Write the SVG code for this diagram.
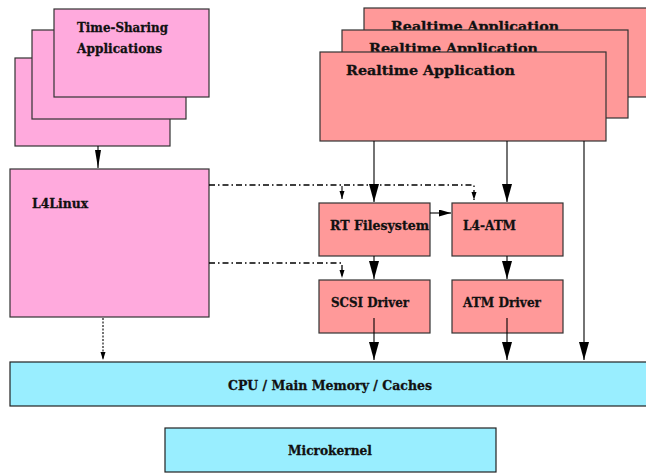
<svg xmlns="http://www.w3.org/2000/svg" width="646" height="473" viewBox="0 0 646 473">
<style>
.ts{fill:#ffaadd;stroke:#333;stroke-width:1.2}
.rt{fill:#ff9999;stroke:#333;stroke-width:1.2}
.hw{fill:#99eeff;stroke:#222;stroke-width:1.2}
text{font-family:"DejaVu Serif","Liberation Serif",serif;font-weight:bold;fill:#111;stroke:#111;stroke-width:0.3;font-size:13px}
.solid{stroke:#000;stroke-width:1.1;fill:none}
.dd{stroke:#000;stroke-width:1.3;fill:none;stroke-dasharray:6 3 1.5 3}
.dot{stroke:#000;stroke-width:1.1;fill:none;stroke-dasharray:2 1.5}
</style>
<defs>
<marker id="big" markerUnits="userSpaceOnUse" markerWidth="19" markerHeight="11" refX="18" refY="5" orient="auto"><path d="M0,0 L18,5 L0,10 z" fill="#000"/></marker>
<marker id="mid" markerUnits="userSpaceOnUse" markerWidth="19" markerHeight="7" refX="18" refY="3" orient="auto"><path d="M0,0 L18,3 L0,6 z" fill="#000"/></marker>
<marker id="med" markerUnits="userSpaceOnUse" markerWidth="13" markerHeight="8" refX="12" refY="3.5" orient="auto"><path d="M0,0 L12,3.5 L0,7 z" fill="#000"/></marker>
<marker id="sm" markerUnits="userSpaceOnUse" markerWidth="9" markerHeight="6" refX="8" refY="2.5" orient="auto"><path d="M0,0 L8,2.5 L0,5 z" fill="#000"/></marker>
</defs>

<g id="timesharing">
<rect class="ts" x="15" y="58" width="155" height="88"/>
<rect class="ts" x="32" y="30" width="154" height="89"/>
<rect class="ts" x="54" y="9" width="155" height="88"/>
<text x="77" y="32" font-size="12" textLength="91" lengthAdjust="spacingAndGlyphs">Time-Sharing</text>
<text x="77" y="52.5" font-size="12" textLength="85" lengthAdjust="spacingAndGlyphs">Applications</text>
</g>

<g id="realtime">
<rect class="rt" x="364" y="8" width="290" height="89"/>
<text x="391" y="30.5" font-size="14" textLength="168" lengthAdjust="spacingAndGlyphs">Realtime Application</text>
<rect class="rt" x="342" y="30" width="286" height="88"/>
<text x="369" y="52.5" font-size="14" textLength="169" lengthAdjust="spacingAndGlyphs">Realtime Application</text>
<rect class="rt" x="320" y="52" width="286" height="89"/>
<text x="346" y="74.5" font-size="14" textLength="169" lengthAdjust="spacingAndGlyphs">Realtime Application</text>
</g>

<g id="l4linux">
<rect class="ts" x="10" y="169" width="199" height="148"/>
<text x="32" y="208" textLength="56" lengthAdjust="spacingAndGlyphs">L4Linux</text>
</g>

<g id="rtfs">
<rect class="rt" x="319" y="203" width="111" height="53"/>
<text x="330" y="230" textLength="99" lengthAdjust="spacingAndGlyphs">RT Filesystem</text>
</g>

<g id="l4atm">
<rect class="rt" x="452" y="203" width="111" height="53"/>
<text x="463" y="230" textLength="53" lengthAdjust="spacingAndGlyphs">L4-ATM</text>
</g>

<g id="scsi">
<rect class="rt" x="319" y="280" width="111" height="53"/>
<text x="331" y="307" textLength="78" lengthAdjust="spacingAndGlyphs">SCSI Driver</text>
</g>

<g id="atmdrv">
<rect class="rt" x="452" y="280" width="111" height="53"/>
<text x="463" y="307" textLength="78" lengthAdjust="spacingAndGlyphs">ATM Driver</text>
</g>

<g id="cpu">
<rect class="hw" x="10" y="362" width="650" height="44"/>
<text x="228" y="390" textLength="204" lengthAdjust="spacingAndGlyphs">CPU / Main Memory / Caches</text>
</g>

<g id="microkernel">
<rect class="hw" x="165" y="428" width="331" height="44"/>
<text x="288" y="455" textLength="84" lengthAdjust="spacingAndGlyphs">Microkernel</text>
</g>

<g id="connectors">
<line class="solid" x1="98" y1="146" x2="98" y2="168" marker-end="url(#mid)"/>
<line class="solid" x1="374" y1="141" x2="374" y2="202" marker-end="url(#big)"/>
<line class="solid" x1="507" y1="141" x2="507" y2="202" marker-end="url(#big)"/>
<line class="solid" x1="584" y1="141" x2="584" y2="360" marker-end="url(#big)"/>
<line class="solid" x1="430" y1="213" x2="451" y2="213" marker-end="url(#med)"/>
<line class="solid" x1="374" y1="256" x2="374" y2="279" marker-end="url(#big)"/>
<line class="solid" x1="507" y1="256" x2="507" y2="279" marker-end="url(#big)"/>
<line class="solid" x1="374" y1="318" x2="374" y2="360" marker-end="url(#big)"/>
<line class="solid" x1="507" y1="318" x2="507" y2="360" marker-end="url(#big)"/>
<polyline class="dd" points="209,185 474,185 474,200" marker-end="url(#sm)"/>
<line class="solid" x1="342" y1="186" x2="342" y2="199" marker-end="url(#sm)"/>
<polyline class="dd" points="209,263 342,263 342,278" marker-end="url(#sm)"/>
<line class="dot" x1="103" y1="318" x2="103" y2="360" marker-end="url(#sm)"/>
</g>
</svg>
